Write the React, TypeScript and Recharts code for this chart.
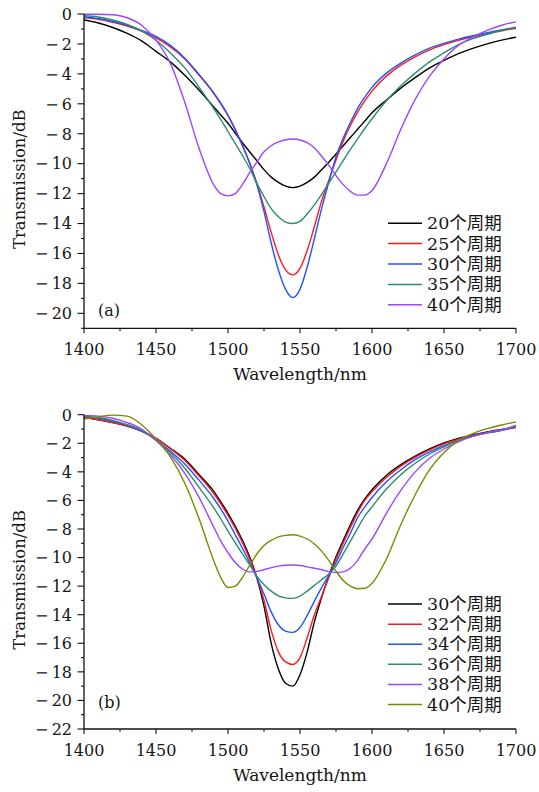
import { LineChart, Line, XAxis, YAxis, Legend } from "recharts";

/* ---------------- data ---------------- */

const WAVELENGTH = [
  1400, 1410, 1420, 1430, 1440, 1450, 1460, 1470, 1480,
  1490, 1495, 1500, 1505, 1510, 1515, 1520, 1525, 1530, 1535, 1540, 1545,
  1550, 1555, 1560, 1565, 1570, 1575, 1580, 1585, 1590, 1595, 1600,
  1610, 1620, 1630, 1640, 1650, 1660, 1670, 1680, 1690, 1700,
];

const X_TICKS = [1400, 1425, 1450, 1475, 1500, 1525, 1550, 1575, 1600, 1625, 1650, 1675, 1700];

// (a)
const A_P20 = [
  -0.4, -0.6, -0.9, -1.3, -1.8, -2.5, -3.2, -4.1, -5.1,
  -6.2, -6.75, -7.3, -7.95, -8.6, -9.2, -9.8, -10.4, -10.9, -11.25, -11.5, -11.6,
  -11.5, -11.25, -10.9, -10.4, -9.9, -9.35, -8.8, -8.25, -7.7, -7.15, -6.6,
  -5.75, -4.95, -4.25, -3.6, -3.1, -2.65, -2.3, -2.0, -1.75, -1.55,
];
const A_P25 = [
  -0.25, -0.35, -0.55, -0.8, -1.15, -1.6, -2.2, -3.0, -4.1,
  -5.3, -6.0, -6.8, -7.75, -8.8, -9.95, -11.3, -12.9, -14.6, -16.1, -17.1, -17.43,
  -17.0, -15.8, -14.2, -12.5, -11.1, -9.75, -8.5, -7.45, -6.55, -5.8, -5.15,
  -4.15, -3.42, -2.86, -2.4, -2.05, -1.76, -1.52, -1.32, -1.12, -0.95,
];
const A_P30 = [
  -0.2, -0.3, -0.5, -0.75, -1.1, -1.5, -2.1, -2.95, -4.05,
  -5.25, -5.95, -6.75, -7.7, -8.75, -9.95, -11.4, -13.2, -15.3, -17.1, -18.4, -18.95,
  -18.4, -16.9, -15.0, -13.0, -11.25, -9.55, -8.3, -7.25, -6.3, -5.55, -4.9,
  -3.95, -3.28, -2.73, -2.28, -1.96, -1.68, -1.45, -1.25, -1.07, -0.9,
];
const A_P35 = [
  -0.12, -0.2, -0.4, -0.7, -1.15, -1.75, -2.6, -3.6, -4.9,
  -6.3, -7.05, -7.85, -8.65, -9.45, -10.3, -11.3, -12.2, -13.0, -13.55, -13.9, -14.0,
  -13.85, -13.35, -12.75, -12.05, -11.3, -10.55, -9.8, -9.05, -8.35, -7.65, -7.0,
  -5.8, -4.8, -3.95, -3.2, -2.6, -2.05, -1.65, -1.35, -1.1, -0.88,
];
const A_P40 = [
  -0.02, -0.02, -0.05, -0.25, -0.75, -1.75, -3.3, -5.9, -9.0,
  -11.4, -12.0, -12.15, -12.0, -11.4, -10.6, -9.9, -9.2, -8.8, -8.55, -8.4, -8.35,
  -8.42, -8.6, -8.95, -9.5, -10.1, -10.8, -11.4, -11.85, -12.1, -12.1, -11.8,
  -10.0, -7.7, -5.7, -4.15, -3.0, -2.1, -1.55, -1.1, -0.75, -0.53,
];

// (b)
const B_P30 = [
  -0.18, -0.35, -0.55, -0.8, -1.15, -1.65, -2.35, -3.1, -4.2,
  -5.35, -6.1, -6.9, -7.8, -8.8, -9.95, -11.4, -13.4, -16.0, -17.8, -18.8, -19.0,
  -18.2, -16.6, -14.5, -12.8, -11.3, -9.95, -8.8, -7.7, -6.7, -5.9, -5.25,
  -4.25, -3.5, -2.9, -2.4, -1.98, -1.66, -1.41, -1.2, -1.03, -0.88,
];
const B_P32 = [
  -0.18, -0.35, -0.55, -0.8, -1.15, -1.65, -2.38, -3.2, -4.3,
  -5.5, -6.25, -7.05, -7.95, -8.95, -10.1, -11.4, -13.0, -15.1, -16.6, -17.3, -17.48,
  -17.0, -15.6, -14.0, -12.7, -11.4, -10.1, -9.0, -7.9, -6.85, -6.0, -5.4,
  -4.4, -3.6, -2.98, -2.46, -2.04, -1.72, -1.46, -1.24, -1.07, -0.9,
];
const B_P34 = [
  -0.1, -0.25, -0.45, -0.75, -1.15, -1.75, -2.55, -3.45, -4.6,
  -5.85, -6.6, -7.45, -8.4, -9.35, -10.35, -11.4, -12.55, -13.8, -14.7, -15.15, -15.24,
  -14.9, -14.05, -13.05, -12.1, -11.25, -10.35, -9.3, -8.3, -7.2, -6.45, -5.8,
  -4.7, -3.85, -3.15, -2.6, -2.16, -1.8, -1.5, -1.27, -1.1, -0.82,
];
const B_P36 = [
  -0.1, -0.2, -0.4, -0.7, -1.1, -1.8, -2.65, -3.75, -5.1,
  -6.5, -7.3, -8.15, -8.95, -9.75, -10.5, -11.3, -11.9, -12.35, -12.68, -12.82, -12.86,
  -12.7, -12.35, -11.95, -11.55, -11.15, -10.6, -9.75, -8.85, -7.95, -7.1, -6.45,
  -5.2, -4.2, -3.4, -2.75, -2.25, -1.82, -1.5, -1.28, -1.1, -0.8,
];
const B_P38 = [
  -0.05, -0.1, -0.25, -0.55, -1.0, -1.8, -2.8, -4.1, -5.8,
  -7.85, -8.85, -9.65, -10.35, -10.8, -11.0, -10.98, -10.85, -10.7, -10.6, -10.54, -10.52,
  -10.56, -10.65, -10.75, -10.85, -10.98, -11.05, -11.0, -10.75, -10.2, -9.4, -8.7,
  -6.9, -5.3, -4.0, -3.05, -2.4, -1.9, -1.52, -1.25, -1.05, -0.75,
];
const B_P40 = [
  -0.3, -0.15, -0.03, -0.1, -0.7, -1.7, -2.95, -4.8, -7.3,
  -10.2, -11.4, -12.1, -12.0, -11.4, -10.55, -9.75, -9.15, -8.8, -8.55, -8.45, -8.4,
  -8.5, -8.7, -9.05, -9.55, -10.2, -10.95, -11.6, -12.0, -12.18, -12.15, -11.8,
  -10.1, -7.7, -5.6, -3.85, -2.65, -1.8, -1.32, -0.98, -0.72, -0.5,
];

/* ---------------- series setup ---------------- */

type Series = { key: string; name: string; color: string; values: number[] };

const SERIES_A: Series[] = [
  { key: "p20", name: "20个周期", color: "#000000", values: A_P20 },
  { key: "p25", name: "25个周期", color: "#ff1a1a", values: A_P25 },
  { key: "p30", name: "30个周期", color: "#2152ff", values: A_P30 },
  { key: "p35", name: "35个周期", color: "#2c8c70", values: A_P35 },
  { key: "p40", name: "40个周期", color: "#a044ff", values: A_P40 },
];

const SERIES_B: Series[] = [
  { key: "p30", name: "30个周期", color: "#000000", values: B_P30 },
  { key: "p32", name: "32个周期", color: "#ff1a1a", values: B_P32 },
  { key: "p34", name: "34个周期", color: "#2152ff", values: B_P34 },
  { key: "p36", name: "36个周期", color: "#2c8c70", values: B_P36 },
  { key: "p38", name: "38个周期", color: "#a044ff", values: B_P38 },
  { key: "p40", name: "40个周期", color: "#7a8a00", values: B_P40 },
];

const FONT = "'DejaVu Serif', serif";
const LEGEND_FONT = "'DejaVu Serif', 'Noto Sans CJK SC', serif";
const INK = "#151515";
const AXIS = { stroke: "#111", strokeWidth: 1.3 };

// TeX-style minus with a small gap before the digits
const fmt = (v: number) => (v < 0 ? "\u2212\u2009" + Math.abs(v) : String(v));

/* ---------------- tick renderers ---------------- */

const BottomTick = (p: any) => {
  const major = p.payload.value % 50 === 0;
  return (
    <g>
      <line x1={p.x} x2={p.x} y1={p.y} y2={p.y + (major ? 5 : 3)} stroke="#111" strokeWidth={1.1} />
      {major && (
        <text x={p.x} y={p.y + 26.7} textAnchor="middle" fontFamily={FONT} fontSize={16} fill={INK}>
          {p.payload.value}
        </text>
      )}
    </g>
  );
};

const TopTick = (p: any) => {
  const major = p.payload.value % 50 === 0;
  return <line x1={p.x} x2={p.x} y1={p.y} y2={p.y + (major ? 4 : 3)} stroke="#111" strokeWidth={1.1} />;
};

const LeftTick = (p: any) => {
  const major = Math.abs(p.payload.value) % 2 === 0;
  return (
    <g>
      <line x1={p.x - (major ? 6.5 : 3)} x2={p.x} y1={p.y} y2={p.y} stroke="#111" strokeWidth={1.1} />
      {major && (
        <text x={p.x - 12} y={p.y + 5.8} textAnchor="end" fontFamily={FONT} fontSize={16} fill={INK}>
          {fmt(p.payload.value)}
        </text>
      )}
    </g>
  );
};

const RightTick = (p: any) => {
  const major = Math.abs(p.payload.value) % 2 === 0;
  return <line x1={p.x - (major ? 4 : 2.5)} x2={p.x} y1={p.y} y2={p.y} stroke="#111" strokeWidth={1.1} />;
};

const makeLegend = (rowH: number) => (props: any) => {
  const items = props.payload || [];
  return (
    <svg width={140} height={rowH * items.length} style={{ display: "block", overflow: "visible" }}>
      {items.map((it: any, i: number) => {
        const cy = rowH * i + rowH / 2;
        return (
          <g key={it.value}>
            <line x1={0} x2={34} y1={cy} y2={cy} stroke={it.color} strokeWidth={1.5} />
            <text x={39} y={cy} dominantBaseline="central" fontFamily={LEGEND_FONT} fontSize={17.5} fill={INK}>
              {it.value}
            </text>
          </g>
        );
      })}
    </svg>
  );
};

/* ---------------- one panel ---------------- */

type PanelProps = {
  series: Series[];
  yMin: number;
  marginTop: number;
  xAxisHeight: number;
  legendTop: number;
  rowH: number;
  tag: string;
  tagY: number;
};

function Panel({ series, yMin, marginTop, xAxisHeight, legendTop, rowH, tag, tagY }: PanelProps) {
  const W = 539;
  const H = 396;
  const plotBottom = H - xAxisHeight;
  const plotMid = (marginTop + plotBottom) / 2;

  const data = WAVELENGTH.map((wl, i) => {
    const row: Record<string, number> = { wl };
    series.forEach((s) => (row[s.key] = s.values[i]));
    return row;
  });
  const yTicks = Array.from({ length: -yMin + 1 }, (_, i) => yMin + i);

  return (
    <div style={{ position: "relative", width: W, height: H }}>
      <LineChart width={W} height={H} data={data} margin={{ top: marginTop, right: 23, bottom: 0, left: 0 }}>
        <XAxis
          dataKey="wl"
          type="number"
          domain={[1400, 1700]}
          ticks={X_TICKS}
          interval={0}
          height={xAxisHeight}
          tickSize={0}
          tickMargin={0}
          tickLine={false}
          axisLine={AXIS}
          tick={BottomTick}
          label={() => (
            <text x={300} y={plotBottom + 51.7} textAnchor="middle" fontFamily={FONT} fontSize={17} fill={INK}>
              Wavelength/nm
            </text>
          )}
        />
        <XAxis
          xAxisId="top"
          orientation="top"
          dataKey="wl"
          type="number"
          domain={[1400, 1700]}
          ticks={X_TICKS}
          interval={0}
          height={0}
          tickSize={0}
          tickMargin={0}
          tickLine={false}
          axisLine={AXIS}
          tick={TopTick}
        />
        <YAxis
          type="number"
          domain={[yMin, 0]}
          ticks={yTicks}
          interval={0}
          width={84}
          tickSize={0}
          tickMargin={0}
          tickLine={false}
          axisLine={AXIS}
          tick={LeftTick}
          label={() => (
            <text
              x={25}
              y={plotMid + 8}
              transform={`rotate(-90 25 ${plotMid + 8})`}
              textAnchor="middle"
              fontFamily={FONT}
              fontSize={16.5}
              fill={INK}
            >
              Transmission/dB
            </text>
          )}
        />
        <YAxis
          yAxisId="right"
          orientation="right"
          type="number"
          domain={[yMin, 0]}
          ticks={yTicks}
          interval={0}
          width={0}
          tickSize={0}
          tickMargin={0}
          tickLine={false}
          axisLine={AXIS}
          tick={RightTick}
        />
        <Legend
          layout="horizontal"
          verticalAlign="middle"
          align="center"
          wrapperStyle={{ left: 387.7, top: legendTop, width: 140 }}
          content={makeLegend(rowH)}
        />
        {series.map((s) => (
          <Line
            key={s.key}
            type="monotone"
            dataKey={s.key}
            name={s.name}
            stroke={s.color}
            strokeWidth={1.4}
            dot={false}
            activeDot={false}
            isAnimationActive={false}
          />
        ))}
      </LineChart>
      <svg width={W} height={H} style={{ position: "absolute", left: 0, top: 0, pointerEvents: "none" }}>
        <text x={98} y={tagY} fontFamily={FONT} fontSize={16} fill={INK}>
          {tag}
        </text>
      </svg>
    </div>
  );
}

export default function App() {
  return (
    <div style={{ position: "absolute", left: 0, top: 0, width: 539, height: 792, background: "#fff" }}>
      <Panel series={SERIES_A} yMin={-21} marginTop={14} xAxisHeight={67.7} legendTop={213.1} rowH={20.4} tag="(a)" tagY={316} />
      <Panel series={SERIES_B} yMin={-22} marginTop={18.7} xAxisHeight={63} legendTop={198.3} rowH={20.1} tag="(b)" tagY={312} />
    </div>
  );
}
